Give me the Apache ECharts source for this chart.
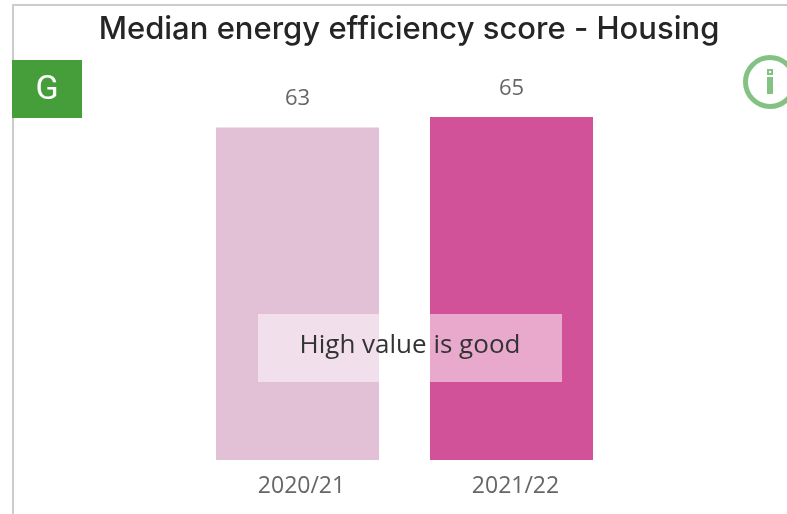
<!DOCTYPE html>
<html><head><meta charset="utf-8">
<style>html,body{margin:0;padding:0;background:#fff}#c{width:787px;height:514px}</style>
<script src="https://cdn.jsdelivr.net/npm/echarts@6/dist/echarts.min.js"></script>
</head><body><div id="c"></div>
<script>
const titleText = "Median energy efficiency score - Housing";
const badgeText = "G";
const noteText = "High value is good";
const categories = ["2020/21", "2021/22"];
const values = [63, 65];
const barColors = ["#e2c0d6", "#d15298"];
const chart = echarts.init(document.getElementById('c'), null, {renderer:'canvas'});
const lab = "'Open Sans', 'Noto Sans', sans-serif";
chart.setOption({
  animation:false,
  title:{text:titleText,left:404,top:9,textAlign:'center',textStyle:{fontFamily:"Inter, sans-serif",fontSize:31,fontWeight:500,color:'#252525'}},
  grid:{left:190.5,width:428,top:117,height:343,containLabel:false},
  xAxis:{type:'category',data:categories,axisLine:{show:false},axisTick:{show:false},
    axisLabel:{color:'#666',fontFamily:lab,fontSize:23,margin:13,padding:[2,0,0,8]}},
  yAxis:{type:'value',min:0,max:65,show:false,splitLine:{show:false}},
  series:[{type:'bar',barWidth:163,data:values.map((v,i)=>({value:v,itemStyle:{color:barColors[i]}})),
    label:{show:true,position:'top',distance:17.5,color:'#666',fontFamily:lab,fontSize:22}}],
  graphic:[
    {type:'rect',z:100,shape:{x:12,y:4,width:775,height:2},style:{fill:'#cccccc'}},
    {type:'rect',z:100,shape:{x:12,y:4,width:2,height:510},style:{fill:'#cccccc'}},
    {type:'rect',z:100,shape:{x:12,y:60,width:70,height:58},style:{fill:'#459e3a'}},
    {type:'text',z:101,style:{x:47,y:90,text:badgeText,fill:'#fff',fontFamily:'Roboto, sans-serif',fontSize:34,align:'center',verticalAlign:'middle'}},
    {type:'rect',z:100,shape:{x:258,y:314,width:304,height:68},style:{fill:'rgba(255,255,255,0.5)'}},
    {type:'text',z:101,style:{x:410,y:346,text:noteText,fill:'#333',fontFamily:lab,fontSize:26,align:'center',verticalAlign:'middle'}},
    {type:'circle',z:100,shape:{cx:770,cy:82,r:24.5},style:{fill:'none',stroke:'#84c283',lineWidth:5}},
    {type:'rect',z:100,shape:{x:767,y:77,width:6,height:17},style:{fill:'#84c283'}},
    {type:'rect',z:100,shape:{x:767,y:69,width:6,height:6},style:{fill:'#84c283'}},
    {type:'rect',z:101,shape:{x:769,y:71,width:2,height:2},style:{fill:'#fff'}}
  ]
});
</script></body></html>
